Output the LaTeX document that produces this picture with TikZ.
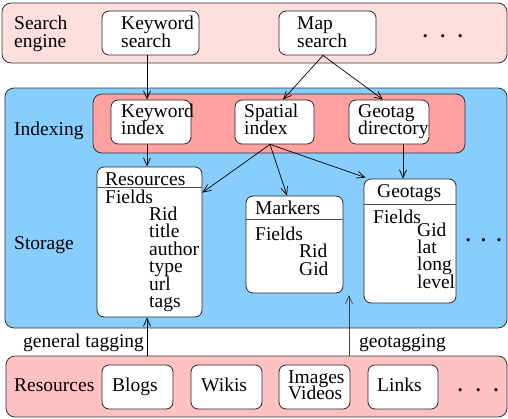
\documentclass[tikz,border=0pt]{standalone}
\usepackage{fontspec}
\setmainfont{Liberation Serif}
\usetikzlibrary{arrows.meta}
\definecolor{sepink}{RGB}{255,222,222}
\definecolor{idxpink}{RGB}{255,161,161}
\definecolor{respink}{RGB}{255,193,193}
\definecolor{skyb}{RGB}{135,206,255}
\newcommand\rbox[6]{\node[#1, minimum width={#5pt-#3pt}, minimum height={#6pt-#4pt}] (#2) at ({(#3+#5)/2},{(#4+#6)/2}) {};}
\newcommand\tx[4]{\node[txt] (#1) at (#2,#3) {#4};}
\newcommand\mydots[1]{\textbf{.}\hspace{#1}\textbf{.}\hspace{#1}\textbf{.}}
\begin{document}
\begin{tikzpicture}[x=1pt,y=-1pt,
  font=\fontsize{19.5}{17.5}\selectfont,
  band/.style={draw=black!80, line width=0.8pt, rounded corners=9pt, inner sep=0pt},
  wbox/.style={draw=black!85, fill=white, line width=0.8pt, rounded corners=7pt, inner sep=0pt},
  txt/.style={anchor=base west, inner sep=0pt, text height=11.5pt, text depth=3.5pt},
  hline/.style={draw=black!70, line width=0.9pt},
  arr/.style={-{Straight Barb[length=8pt,width=7pt]}, line width=0.7pt}]
\useasboundingbox (0,0) rectangle (508,418);
% bands
\rbox{band, fill=sepink}{se}{2}{3}{507}{63}
\rbox{band, fill=skyb}{bl}{5}{88}{507}{328}
\rbox{band, fill=idxpink}{ix}{93}{94}{465}{153}
\rbox{band, fill=respink}{rb}{6}{356}{507}{417}
% search engine boxes
\rbox{wbox}{ks}{102}{11}{199}{55}
\rbox{wbox}{ms}{279}{11}{376}{55}
% index boxes
\rbox{wbox}{ki}{111}{100}{191}{144}
\rbox{wbox}{si}{235}{100}{314}{144}
\rbox{wbox}{gd}{349}{100}{429}{144}
% tables
\rbox{wbox}{res}{97}{167}{202}{317}
\rbox{wbox}{mk}{246}{196}{343}{293}
\rbox{wbox}{gt}{364}{179}{456}{303}
\draw[hline] (97,187) -- (202,187);
\draw[hline] (246,219) -- (343,219);
\draw[hline] (364,204) -- (456,204);
% resource boxes
\rbox{wbox}{blogs}{102}{365}{173}{409}
\rbox{wbox}{wikis}{191}{365}{262}{409}
\rbox{wbox}{iv}{279}{365}{350}{409}
\rbox{wbox}{links}{368}{365}{438}{409}
% texts
\tx{t1}{14}{29}{Search}
\tx{t2}{14}{47}{engine}
\tx{t3}{121}{29}{Keyword}
\tx{t4}{121}{47}{search}
\tx{t5}{297}{29}{Map}
\tx{t6}{297}{47}{search}
\tx{d1}{422.6}{37}{\mydots{12.6pt}}
\tx{t7}{14}{135}{Indexing}
\tx{t8}{121}{117}{Keyword}
\tx{t9}{121}{134}{index}
\tx{t10}{244}{117}{Spatial}
\tx{t11}{244}{134}{index}
\tx{t12}{358}{117}{Geotag}
\tx{t13}{358}{134}{directory}
\tx{t14}{105}{185}{Resources}
\tx{t15}{105}{203}{Fields}
\tx{t16}{149}{220}{Rid}
\tx{t17}{149}{237.7}{title}
\tx{t18}{149}{255}{author}
\tx{t19}{149}{272.7}{type}
\tx{t20}{149}{290}{url}
\tx{t21}{149}{307}{tags}
\tx{t22}{14}{249}{Storage}
\tx{t23}{255}{214}{Markers}
\tx{t24}{255}{240}{Fields}
\tx{t25}{299}{257}{Rid}
\tx{t26}{299}{275}{Gid}
\tx{t27}{377}{197}{Geotags}
\tx{t28}{373}{223}{Fields}
\tx{t29}{417}{236}{Gid}
\tx{t30}{417}{253}{lat}
\tx{t31}{417}{270}{long}
\tx{t32}{417}{288}{level}
\tx{d2}{465.6}{241}{\mydots{10.5pt}}
\tx{t33}{23}{347}{general tagging}
\tx{t34}{359}{347}{geotagging}
\tx{t35}{14}{391}{Resources}
\tx{t36}{112}{391}{Blogs}
\tx{t37}{201}{391}{Wikis}
\tx{t38}{288}{383}{Images}
\tx{t39}{288}{399}{Videos}
\tx{t40}{377}{391}{Links}
\tx{d3}{457.6}{391}{\mydots{13.1pt}}
% connectors
\draw[arr] ([xshift=-3.5pt]ks.south) -- ([xshift=-4pt]ki.north);
\draw[arr] ([xshift=-4.5pt]ms.south) -- ([xshift=8.5pt]si.north);
\draw[arr] ([xshift=-4.5pt]ms.south) -- ([xshift=-6pt]gd.north);
\draw[arr] ([xshift=-4pt]ki.south) -- ([xshift=-2.5pt]res.north);
\draw[arr] ([xshift=14pt]gd.south) -- ([xshift=-7pt]gt.north);
\draw[arr] ([xshift=-4.5pt]si.south) -- ([yshift=-26pt]res.north east);
\draw[arr] ([xshift=-4.5pt]si.south) -- ([xshift=-7.5pt]mk.north);
\draw[arr] ([xshift=-4.5pt]si.south) -- ([xshift=2pt,yshift=1pt]gt.north west);
\coordinate (c1) at (147,356);
\coordinate (c2) at (349,356);
\coordinate (c3) at (349,295);
\draw[arr] (c1) -- ([xshift=-2.5pt]res.south);
\draw[arr, black!75] (c2) -- (c3);
\end{tikzpicture}
\end{document}
